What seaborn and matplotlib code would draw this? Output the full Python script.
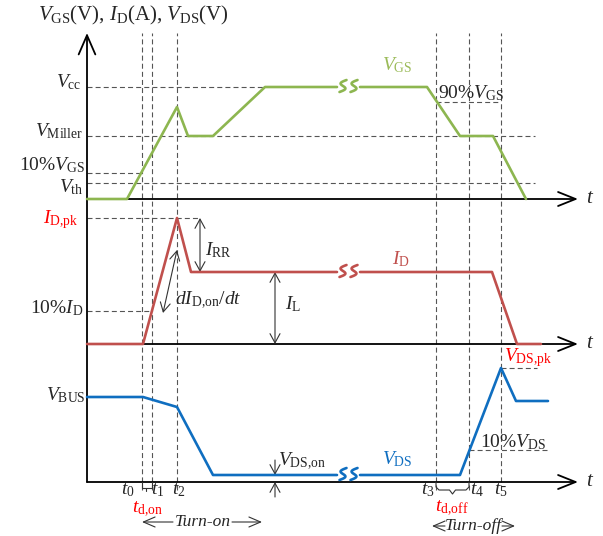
import numpy as np
import pandas as pd
import matplotlib
matplotlib.use("Agg")
import matplotlib.pyplot as plt
import seaborn as sns

sns.set_theme(style="white")
plt.rcParams["font.family"] = ["Liberation Serif", "DejaVu Serif"]
plt.rcParams["mathtext.fontset"] = "custom"
plt.rcParams["mathtext.rm"] = "Liberation Serif"
plt.rcParams["mathtext.it"] = "Liberation Serif:italic"
plt.rcParams["mathtext.bf"] = "Liberation Serif:bold"

GREEN = "#8DB650"
GREEN_TXT = "#9BBB59"
RED = "#C0504D"
RED_TXT = "#FF0000"
BLUE = "#0F6EC0"
GUIDE = "#555555"
ARROW = "#333333"

# ---- switching instants (time in arbitrary units, 0 at the vertical axis) ----
t_labels = ["$t_0$", "$t_1$", "$t_2$", "$t_3$", "$t_4$", "$t_5$"]
t_instants = [55, 65, 90, 349, 382, 414]
t_label_shift = [-14, 6, 2, -8, 8, 0]

# time span cut out of the long on-state (drawn as a break mark)
break_span = [250, 273]

# ---- gate-source voltage ----
vgs_time = [0, 40, 90, 101, 126, 178, 250, 273, 340, 373, 406, 439]
vgs_level = [0, 0, 92, 63, 63, 112, 112, 112, 112, 63, 63, 0]
vgs_cc, vgs_miller, vgs_10, vgs_th, vgs_90 = 112, 63, 26, 16, 97

# ---- drain current ----
id_time = [0, 56, 90, 104, 250, 273, 405, 430, 454]
id_level = [0, 0, 126, 72, 72, 72, 72, 0, 0]
id_pk, id_load, id_10 = 126, 72, 33

# ---- drain-source voltage ----
vds_time = [0, 56, 90, 126, 250, 273, 373, 414, 429, 461]
vds_level = [85, 85, 75, 7, 7, 7, 7, 114, 81, 81]
vds_bus, vds_on, vds_pk, vds_10 = 85, 7, 114, 32

# vertical position of each trace's zero line on the canvas
base_gs, base_d, base_ds = 337, 192, 54

fig = plt.figure(figsize=(6.03, 5.36), dpi=100)
ax = fig.add_axes([0, 0, 1, 1])
ax.set_xlim(-87, 516)
ax.set_ylim(0, 536)
ax.axis("off")

FS = 14


def dashed(x, y):
    ax.plot(x, y, color=GUIDE, lw=0.8, dashes=(4.5, 2.8), zorder=1)


def arrow(p0, p1, style, lw=0.8, color=ARROW, z=2):
    ax.annotate("", xy=p1, xytext=p0,
                arrowprops=dict(arrowstyle=style, lw=lw, color=color,
                                shrinkA=0, shrinkB=0),
                zorder=z)


def wave(time, level, base, color):
    df = pd.DataFrame({"t": time, "v": np.asarray(level, float) + base})
    df["seg"] = (df["t"] >= break_span[1]).astype(int)
    sns.lineplot(data=df, x="t", y="v", units="seg", estimator=None,
                 sort=False, color=color, lw=1.9, ax=ax, legend=False,
                 zorder=4)
    # break mark: two slanted S strokes across the gap
    lvl = np.interp(break_span[0], time, level) + base
    s = np.linspace(-1, 1, 40)
    for c in (break_span[0] + 6, break_span[0] + 17):
        ax.plot(c + 3.5 * s - 4.0 * np.sin(np.pi * s), lvl + 1 + 6 * s,
                color=color, lw=1.9, zorder=4, solid_capstyle="round")


# ---- guide lines ----
for t in t_instants:
    dashed([t, t], [46, 503])
dashed([0, 178], [base_gs + vgs_cc] * 2)
dashed([0, 448], [base_gs + vgs_miller] * 2)
dashed([0, t_instants[0]], [base_gs + vgs_10] * 2)
dashed([0, 448], [base_gs + vgs_th] * 2)
dashed([t_instants[3], 413], [base_gs + vgs_90] * 2)
dashed([0, 113], [base_d + id_pk] * 2)
dashed([0, t_instants[1]], [base_d + id_10] * 2)
dashed([t_instants[5], 450], [base_ds + vds_pk] * 2)
dashed([t_instants[4], 461], [base_ds + vds_10] * 2)

# ---- axes with open arrow heads ----
ax_style = "->,head_length=1.15,head_width=0.5"
arrow((0, base_ds), (0, 503), ax_style, lw=1.3, color="black", z=1)
for b in (base_gs, base_d, base_ds):
    arrow((0, b), (491, b), "->,head_length=1.05,head_width=0.42",
          lw=1.3, color="black", z=1)
    ax.text(499, b - 4, "$t$", fontsize=15, ha="left", va="baseline")

# ---- waveforms ----
wave(vgs_time, vgs_level, base_gs, GREEN)
wave(id_time, id_level, base_d, RED)
wave(vds_time, vds_level, base_ds, BLUE)

# ---- dimension arrows ----
dim = "<->,head_length=0.55,head_width=0.3"
arrow((113, base_d + id_pk), (113, base_d + id_load), dim)
arrow((188, base_d + id_load), (188, base_d), dim)
arrow((76, base_d + 31), (90, base_d + 94), dim)
one = "->,head_length=0.55,head_width=0.3"
arrow((188, base_ds + 22), (188, base_ds + vds_on), one)
arrow((188, base_ds - 15), (188, base_ds), one)

# ---- brackets for the delay times ----
t0, t1, t3, t4 = t_instants[0], t_instants[1], t_instants[3], t_instants[4]
ax.plot([t0, t0, t1, t1], [base_ds, base_ds - 6, base_ds - 6, base_ds],
        color=ARROW, lw=0.8)
ax.plot([59, 59], [base_ds - 6, base_ds - 9], color=ARROW, lw=0.8)
mid = (t3 + t4) / 2
ax.plot([t3, t3, t3 + 3, mid - 3, mid, mid + 3, t4 - 3, t4, t4],
        [base_ds, base_ds - 5, base_ds - 8, base_ds - 8, base_ds - 12,
         base_ds - 8, base_ds - 8, base_ds - 5, base_ds],
        color=ARROW, lw=0.8)

# ---- text ----
ax.text(46, 521, r"$V_{\rm GS}$(V), $I_{\rm D}$(A), $V_{\rm DS}$(V)",
        fontsize=FS + 1, ha="center", va="center")

left = dict(fontsize=FS, ha="right", va="baseline")
ax.text(-5, base_gs + vgs_cc, r"$V_{\rm cc}$", **left)
ax.text(-4, base_gs + vgs_miller, r"$V_{\rm Miller}$", **left)
ax.text(-2, base_gs + 29, r"10%$V_{\rm GS}$", **left)
ax.text(-4, base_gs + 7, r"$V_{\rm th}$", **left)
ax.text(-9, base_d + 121, r"$I_{\rm D{,}pk}$", color=RED_TXT, **left)
ax.text(-4, base_d + 31, r"10%$I_{\rm D}$", **left)
ax.text(-1, base_ds + 82, r"$V_{\rm BUS}$", **left)

lab = dict(fontsize=FS, ha="left", va="baseline")
ax.text(295, 466, r"$V_{\rm GS}$", color=GREEN_TXT, **lab)
ax.text(351, 438, r"90%$V_{\rm GS}$", **lab)
ax.text(118, 281, r"$I_{\rm RR}$", **lab)
ax.text(198, 227, r"$I_{\rm L}$", **lab)
ax.text(88, 232, r"$dI_{\rm D{,}on}/dt$", **lab)
ax.text(305, 272, r"$I_{\rm D}$", color=RED, **lab)
ax.text(417, 175, r"$V_{\rm DS{,}pk}$", color=RED_TXT, **lab)
ax.text(393, 89, r"10%$V_{\rm DS}$", **lab)
ax.text(191, 71, r"$V_{\rm DS{,}on}$", **lab)
ax.text(295, 72, r"$V_{\rm DS}$", color=BLUE, **lab)

for name, t, dx in zip(t_labels, t_instants, t_label_shift):
    ax.text(t + dx, 42, name, fontsize=FS, ha="center", va="baseline")
ax.text(61, 24, r"$t_{\rm d{,}on}$", color=RED_TXT, fontsize=FS,
        ha="center", va="baseline")
ax.text(365, 25, r"$t_{\rm d{,}off}$", color=RED_TXT, fontsize=FS,
        ha="center", va="baseline")

ax.text(116, 14, "Turn-on", fontsize=12.5, style="italic",
        ha="center", va="center")
arrow((86, 14), (55, 14), "->,head_length=0.7,head_width=0.3", lw=0.8)
arrow((145, 14), (175, 14), "->,head_length=0.7,head_width=0.3", lw=0.8)
ax.text(386, 10, "Turn-off", fontsize=12.5, style="italic",
        ha="center", va="center")
arrow((358, 10), (345, 10), "->,head_length=0.7,head_width=0.3", lw=0.8)
arrow((415, 10), (428, 10), "->,head_length=0.7,head_width=0.3", lw=0.8)

fig.savefig("out.png", dpi=100)
